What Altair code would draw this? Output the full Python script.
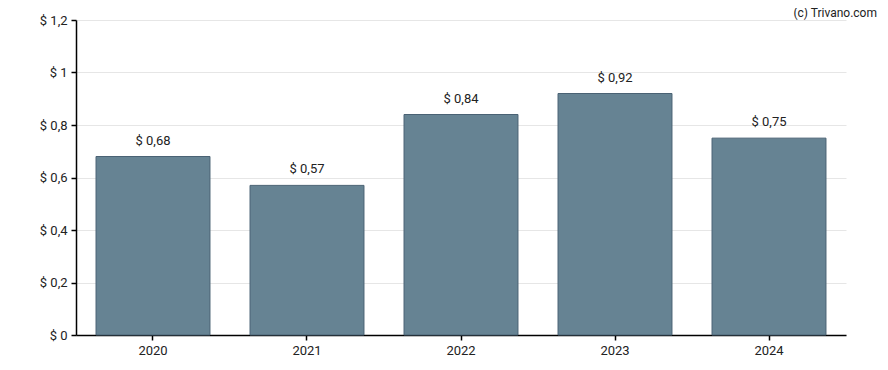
import altair as alt
import pandas as pd

years = ["2020", "2021", "2022", "2023", "2024"]
values = [0.68, 0.57, 0.84, 0.92, 0.75]
labels = ["$ 0,68", "$ 0,57", "$ 0,84", "$ 0,92", "$ 0,75"]

df = pd.DataFrame({"year": years, "value": values, "label": labels})

base = alt.Chart(df)

bars = base.mark_bar(color="#668393", stroke="#4a6274", strokeWidth=1).encode(
    x=alt.X("year:N", title=None, sort=years,
            scale=alt.Scale(paddingInner=0.26, paddingOuter=0.13),
            axis=alt.Axis(labelAngle=0, domainColor="#000000", domainOpacity=1,
                          domainWidth=1.5, tickColor="#000000", tickWidth=1.5,
                          tickSize=5, labelFontSize=13, labelColor="#222222",
                          labelFont="Roboto", labelPadding=4, grid=False)),
    y=alt.Y("value:Q", title=None, scale=alt.Scale(domain=[0, 1.2], nice=False),
            axis=alt.Axis(values=[0, 0.2, 0.4, 0.6, 0.8, 1.0, 1.2],
                          labelExpr="'$ ' + replace(format(datum.value, '.1~f'), '.', ',')",
                          domainColor="#000000", domainOpacity=1, domainWidth=1.5,
                          tickColor="#000000", tickWidth=1.5, tickSize=5,
                          labelFontSize=13, labelColor="#222222", labelFont="Roboto",
                          gridColor="#e6e6e6", labelPadding=4)),
)

text = base.mark_text(baseline="bottom", dy=-9, fontSize=13, font="Roboto",
                      color="#222222").encode(
    x=alt.X("year:N", sort=years),
    y="value:Q",
    text="label:N",
)

credit = alt.Chart(pd.DataFrame({"t": ["(c) Trivano.com"]})).mark_text(
    align="right", baseline="top", fontSize=12, font="Roboto", color="#222222"
).encode(x=alt.value(801), y=alt.value(-12), text="t:N")

chart = alt.layer(bars, text, credit).properties(
    width=770, height=315,
    autosize=alt.AutoSizeParams(type="none"),
    padding={"left": 68, "top": 12, "right": 34, "bottom": 27},
).configure_view(stroke=None)

chart.save("out.html", embed_options={"renderer": "svg", "actions": False})
